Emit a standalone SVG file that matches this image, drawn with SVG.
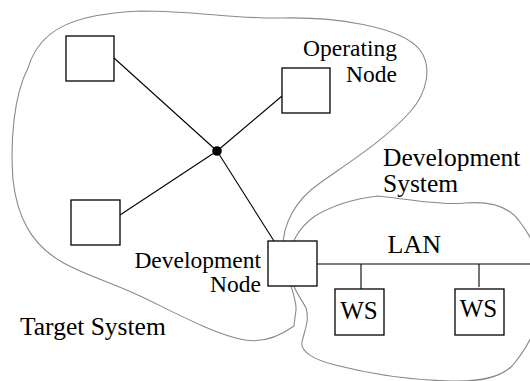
<svg xmlns="http://www.w3.org/2000/svg" width="530" height="381" viewBox="0 0 530 381">
  <style>
    .blob { fill: none; stroke: #8a8a8a; stroke-width: 1.1; }
    .node rect { fill: #fff; stroke: #000; stroke-width: 1.3; }
    .link { stroke: #000; stroke-width: 1.1; fill: none; }
    .lbl { font-family: 'Liberation Serif', 'Tinos', 'Nimbus Roman', 'DejaVu Serif', serif; fill: #000; }
  </style>
  <rect width="530" height="381" fill="#fff"/>

  <!-- system boundaries -->
  <g id="boundaries">
    <path id="target-system-outline" class="blob" d="M 140,11 C 200,11 230,19 283,18 C 330,17 400,25 420,50 C 432,66 428,92 410,112 C 385,140 345,165 320,183 C 295,200 282,225 283,250 C 284,275 297,295 296,310 C 295,318 294,324 294,326 C 280,336 262,343 245,340 C 215,335 170,310 140,296 C 110,282 80,273 62,262 C 30,244 17,215 13,180 C 10,140 14,95 28,68 C 40,28 75,14 140,11 Z"/>
    <path id="development-system-outline" class="blob" d="M 378,196 C 400,198 440,206 465,203 C 490,201 510,207 520,222 C 532,237 542,260 542,290 C 542,320 530,345 512,366 C 500,378 480,382 450,381 C 410,380 370,374 335,365 C 315,360 300,352 302,342 C 304,332 310,320 306,308 C 300,296 289,285 289,263 C 289,245 298,228 315,216 C 335,204 360,198 378,196 Z"/>
  </g>

  <!-- connectors -->
  <g id="connectors">
    <line class="link" x1="114" y1="58" x2="217" y2="151"/>
    <line class="link" x1="217" y1="151" x2="282" y2="96"/>
    <line class="link" x1="217" y1="151" x2="120" y2="215"/>
    <line class="link" x1="217" y1="151" x2="274" y2="241"/>
    <line class="link" x1="317" y1="264" x2="530" y2="264"/>
    <line class="link" x1="361" y1="264" x2="361" y2="289"/>
    <line class="link" x1="479" y1="264" x2="479" y2="287"/>
    <circle id="hub" cx="217" cy="151" r="4.8" fill="#000"/>
  </g>

  <g id="node-top-left" class="node"><rect x="66" y="36" width="48" height="45"/></g>
  <g id="node-operating" class="node"><rect x="282" y="68" width="48" height="45"/></g>
  <g id="node-left" class="node"><rect x="71" y="200" width="49" height="45"/></g>
  <g id="node-development" class="node"><rect x="268" y="241" width="49" height="45"/></g>
  <g id="node-ws1" class="node">
    <rect x="335" y="289" width="49" height="46"/>
    <text class="lbl" x="359" y="319" font-size="25" text-anchor="middle">WS</text>
  </g>
  <g id="node-ws2" class="node">
    <rect x="455" y="289" width="49" height="46"/>
    <text class="lbl" x="478.5" y="317" font-size="25" text-anchor="middle">WS</text>
  </g>

  <!-- labels -->
  <g id="labels">
    <text class="lbl" x="397" y="56" font-size="23.5" text-anchor="end">Operating</text>
    <text class="lbl" x="397" y="82" font-size="23.5" text-anchor="end">Node</text>
    <text class="lbl" x="383" y="165.5" font-size="25.5">Development</text>
    <text class="lbl" x="383" y="191.5" font-size="25.5">System</text>
    <text class="lbl" x="387.5" y="252.5" font-size="26">LAN</text>
    <text class="lbl" x="261" y="268" font-size="23.5" text-anchor="end">Development</text>
    <text class="lbl" x="261" y="291.5" font-size="23.5" text-anchor="end">Node</text>
    <text class="lbl" x="20" y="335" font-size="25.5">Target System</text>
  </g>
</svg>
